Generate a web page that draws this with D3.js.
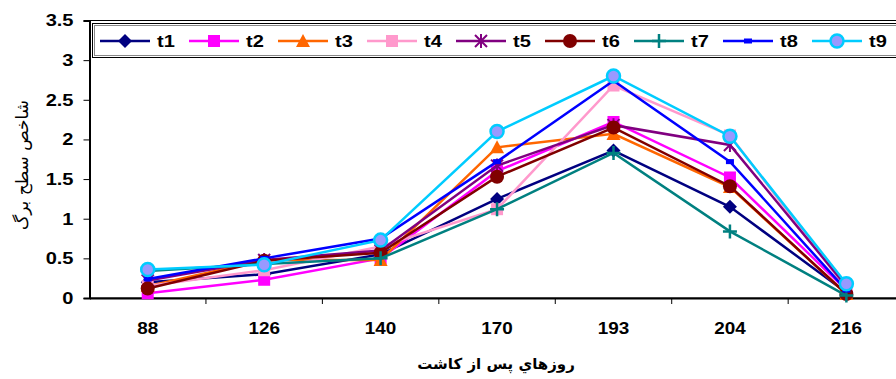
<!DOCTYPE html>
<html>
<head>
<meta charset="utf-8">
<script src="https://cdn.jsdelivr.net/npm/d3@7"></script>
<style>
  html, body { margin: 0; padding: 0; background: #fff; }
  svg { display: block; }
</style>
</head>
<body>
<svg id="chart" width="896" height="379"></svg>
<script>
// Days after planting
const categories = ["88", "126", "140", "170", "193", "204", "216"];
const yTicks = [0, 0.5, 1, 1.5, 2, 2.5, 3, 3.5];
const yTickLabels = ["0", "0.5", "1", "1.5", "2", "2.5", "3", "3.5"];
const seriesNames = ["t1", "t2", "t3", "t4", "t5", "t6", "t7", "t8", "t9"];

// Leaf area index per treatment
const t1 = [0.20, 0.30, 0.55, 1.25, 1.86, 1.15, 0.07];
const t2 = [0.06, 0.23, 0.50, 1.60, 2.22, 1.52, 0.10];
const t3 = [0.15, 0.48, 0.48, 1.90, 2.07, 1.40, 0.05];
const t4 = [0.15, 0.35, 0.65, 1.12, 2.68, 2.05, 0.12];
const t5 = [0.22, 0.48, 0.60, 1.67, 2.18, 1.93, 0.15];
const t6 = [0.12, 0.47, 0.57, 1.53, 2.15, 1.41, 0.05];
const t7 = [0.34, 0.43, 0.50, 1.12, 1.83, 0.84, 0.03];
const t8 = [0.24, 0.50, 0.75, 1.72, 2.74, 1.72, 0.10];
const t9 = [0.36, 0.42, 0.73, 2.10, 2.80, 2.04, 0.18];
const seriesValues = [t1, t2, t3, t4, t5, t6, t7, t8, t9];

const colors = ["#000080", "#FF00FF", "#FF6600", "#FF99CC", "#800080", "#800000", "#008080", "#0000FF", "#00CCFF"];
const markers = ["diamond", "square", "triangle", "square", "star", "circle", "plus", "dash", "circle9"];

const yAxisTitle = "شاخص سطح برگ";
const xAxisTitle = "روزهاي پس از كاشت";

const svg = d3.select("#chart");
const plot = { left: 89.5, top: 20.5, right: 904.6, bottom: 298 };
const stretch = 1.18; // horizontal widening of the numeric labels

const x = d3.scaleBand().domain(categories).range([plot.left, plot.right]).paddingInner(0).paddingOuter(0);
const cx = d => x(d) + x.bandwidth() / 2;
const y = d3.scaleLinear().domain([0, 3.5]).range([plot.bottom, plot.top]);

// Plot frame
svg.append("rect")
  .attr("x", plot.left).attr("y", plot.top)
  .attr("width", plot.right - plot.left).attr("height", plot.bottom - plot.top)
  .attr("fill", "none").attr("stroke", "#000").attr("stroke-width", 1);

// Y axis
const yAxis = d3.axisLeft(y).tickValues(yTicks)
  .tickFormat((d, i) => yTickLabels[i]).tickSize(6).tickPadding(0);
const gy = svg.append("g").attr("transform", `translate(${plot.left},0)`).call(yAxis);
gy.select(".domain").attr("stroke", "#000").attr("stroke-width", 2);
gy.selectAll(".tick line").attr("stroke", "#000").attr("stroke-width", 1);
gy.selectAll(".tick text")
  .attr("x", -16 / stretch)
  .attr("transform", `scale(${stretch},1)`)
  .attr("font-family", "Liberation Sans, Arial, sans-serif")
  .attr("font-size", 17).attr("font-weight", "bold").attr("fill", "#000");

// X axis: labels centred in bands, ticks on band edges
const xAxis = d3.axisBottom(x).tickSize(0).tickPadding(25);
const gx = svg.append("g").attr("transform", `translate(0,${plot.bottom})`).call(xAxis);
gx.select(".domain").attr("stroke", "#000").attr("stroke-width", 2);
gx.selectAll(".tick text")
  .attr("transform", `scale(${stretch},1)`)
  .attr("font-family", "Liberation Sans, Arial, sans-serif")
  .attr("font-size", 16).attr("font-weight", "bold").attr("fill", "#000");
gx.selectAll(".edge").data(categories.slice(1)).enter().append("line")
  .attr("class", "edge")
  .attr("x1", d => x(d)).attr("x2", d => x(d))
  .attr("y1", 0).attr("y2", 6)
  .attr("stroke", "#000").attr("stroke-width", 1);

// Axis titles
svg.append("text")
  .attr("transform", `translate(28,165) rotate(-90)`)
  .attr("text-anchor", "middle")
  .attr("font-family", "DejaVu Sans, sans-serif")
  .attr("font-size", 17).attr("fill", "#000")
  .text(yAxisTitle);

svg.append("text")
  .attr("x", 496).attr("y", 369)
  .attr("text-anchor", "middle")
  .attr("font-family", "DejaVu Sans, sans-serif")
  .attr("font-size", 15).attr("font-weight", "bold").attr("fill", "#000")
  .text(xAxisTitle);

// Marker drawing
function drawMarker(g, type, color) {
  switch (type) {
    case "diamond":
      g.append("path").attr("d", "M0,-7L7,0L0,7L-7,0Z").attr("fill", color);
      break;
    case "square":
      g.append("rect").attr("x", -6).attr("y", -6).attr("width", 12).attr("height", 12).attr("fill", color);
      break;
    case "triangle":
      g.append("path").attr("d", "M0,-7L7,6L-7,6Z").attr("fill", color);
      break;
    case "star":
      g.append("path").attr("d", "M-6,-6L6,6M-6,6L6,-6M0,-7L0,7")
        .attr("stroke", color).attr("stroke-width", 2).attr("fill", "none");
      break;
    case "circle":
      g.append("circle").attr("r", 7).attr("fill", color);
      break;
    case "plus":
      g.append("path").attr("d", "M-7,0L7,0M0,-7L0,7")
        .attr("stroke", color).attr("stroke-width", 2.5).attr("fill", "none");
      break;
    case "dash":
      g.append("rect").attr("x", -4).attr("y", -2.5).attr("width", 8).attr("height", 5).attr("fill", color);
      break;
    case "circle9":
      g.append("circle").attr("r", 6.5).attr("fill", "#9999FF").attr("stroke", color).attr("stroke-width", 2.5);
      break;
  }
}

// Series lines and markers
const line = d3.line().x((d, i) => cx(categories[i])).y(d => y(d));
seriesValues.forEach((vals, s) => {
  const g = svg.append("g");
  g.append("path").datum(vals).attr("d", line)
    .attr("fill", "none").attr("stroke", colors[s]).attr("stroke-width", 2.5);
  vals.forEach((v, i) => {
    const m = g.append("g").attr("transform", `translate(${cx(categories[i])},${y(v)})`);
    drawMarker(m, markers[s], colors[s]);
  });
});

// Legend
const legend = svg.append("g");
legend.append("rect")
  .attr("x", 92.5).attr("y", 23.5).attr("width", 820).attr("height", 34)
  .attr("fill", "#fff").attr("stroke", "#000").attr("stroke-width", 1);
legend.append("rect")
  .attr("x", 94.5).attr("y", 25.5).attr("width", 816).attr("height", 30)
  .attr("fill", "none").attr("stroke", "#888").attr("stroke-width", 1);
const legendStep = 89;
seriesNames.forEach((name, s) => {
  const lx = 100 + s * legendStep;
  const ly = 41;
  const item = legend.append("g");
  item.append("line").attr("x1", lx).attr("x2", lx + 50).attr("y1", ly).attr("y2", ly)
    .attr("stroke", colors[s]).attr("stroke-width", 2.5);
  const m = item.append("g").attr("transform", `translate(${lx + 25},${ly})`);
  drawMarker(m, markers[s], colors[s]);
  item.append("text")
    .attr("transform", `translate(${lx + 57},${ly + 6}) scale(${stretch},1)`)
    .attr("font-family", "Liberation Sans, Arial, sans-serif")
    .attr("font-size", 17).attr("font-weight", "bold").attr("fill", "#000")
    .text(name);
});
</script>
</body>
</html>
